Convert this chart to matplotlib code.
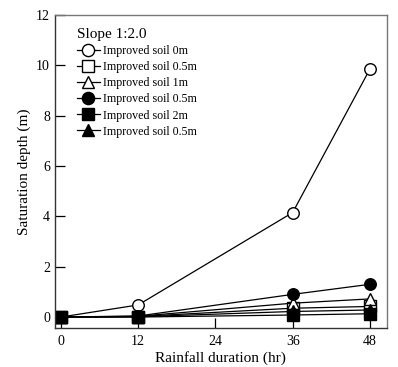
import matplotlib
matplotlib.use("Agg")
import matplotlib.pyplot as plt

plt.rcParams['font.family'] = ['Liberation Serif', 'DejaVu Serif']

hours = [0, 12, 36, 48]
labels = ["Improved soil 0m", "Improved soil 0.5m", "Improved soil 1m",
          "Improved soil 0.5m", "Improved soil 2m", "Improved soil 0.5m"]
s_0m = [0, 0.48, 4.15, 9.85]
s_05m_a = [0, 0.02, 0.35, 0.42]
s_1m = [0, 0.03, 0.55, 0.72]
s_05m_b = [0, 0.04, 0.9, 1.3]
s_2m = [0, 0.0, 0.08, 0.13]
s_05m_c = [0, 0.01, 0.22, 0.28]

series = [s_0m, s_05m_a, s_1m, s_05m_b, s_2m, s_05m_c]
markers = ['o', 's', '^', 'o', 's', '^']
fills = ['white', 'white', 'white', 'black', 'black', 'black']
xticks = [0, 12, 24, 36, 48]
yticks = [0, 2, 4, 6, 8, 10, 12]

fig = plt.figure(figsize=(3.98, 3.67), dpi=100)
ax = fig.add_axes([0.138, 0.106, 0.834, 0.853])

for ys, m, fc, lab in zip(series, markers, fills, labels):
    ax.plot(hours, ys, color='black', lw=0.9, marker=m, markersize=8.3,
            markerfacecolor=fc, markeredgecolor='black', markeredgewidth=1.0,
            label=lab)

ax.set_xlim(-0.93, 50.64)
ax.set_ylim(-0.44, 12)
ax.set_xticks(xticks)
ax.set_yticks(yticks)
ax.tick_params(direction='in', length=7.5, width=0.9, labelsize=10)
ax.tick_params(axis='y', pad=3.5)
ax.tick_params(axis='x', pad=5)
for side in ['left', 'bottom']:
    ax.spines[side].set_color('#333333')
    ax.spines[side].set_linewidth(1.0)
for side in ['top', 'right']:
    ax.spines[side].set_color('#777777')
    ax.spines[side].set_linewidth(1.0)

ax.set_xlabel("Rainfall duration (hr)", fontsize=11, labelpad=2)
ax.set_ylabel("Saturation depth (m)", fontsize=11, labelpad=4)

leg = ax.legend(loc='upper left', bbox_to_anchor=(0.066, 0.958), frameon=False,
                fontsize=8.6, title="Slope 1:2.0", title_fontsize=11,
                handlelength=1.95, handletextpad=0.2, labelspacing=0.34,
                borderaxespad=0, borderpad=0, alignment='left')
leg._legend_handle_box.sep = 6
for h in leg.legend_handles:
    h.set_markersize(8.8)

fig.savefig("out.png", dpi=100)
